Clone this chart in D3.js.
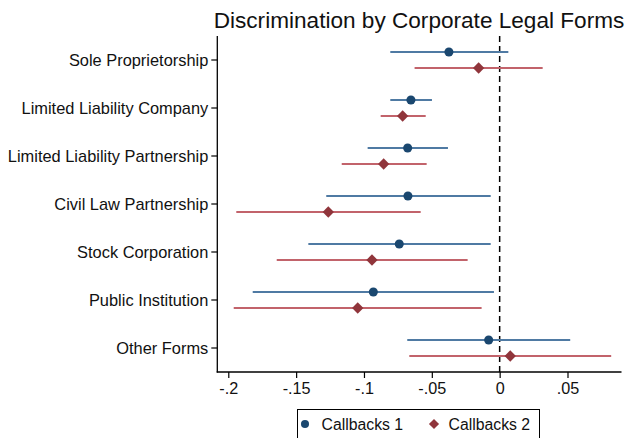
<!DOCTYPE html>
<html>
<head>
<meta charset="utf-8">
<script src="https://cdn.jsdelivr.net/npm/d3@7"></script>
<style>
  html, body { margin: 0; padding: 0; background: #fff; }
  svg { display: block; font-family: "Liberation Sans", Arial, sans-serif; }
</style>
</head>
<body>
<svg id="chart" width="628" height="438"></svg>
<script>
// Legal forms, top to bottom
const categories = [
  "Sole Proprietorship",
  "Limited Liability Company",
  "Limited Liability Partnership",
  "Civil Law Partnership",
  "Stock Corporation",
  "Public Institution",
  "Other Forms"
];

// Callbacks 1: point estimates and confidence bounds
const est1 = [-0.0374, -0.0654, -0.0678, -0.0676, -0.0740, -0.0931, -0.0081];
const lo1  = [-0.0806, -0.0806, -0.0973, -0.1278, -0.1410, -0.1820, -0.0681];
const hi1  = [ 0.0064, -0.0499, -0.0381, -0.0066, -0.0066, -0.0042,  0.0520];

// Callbacks 2: point estimates and confidence bounds
const est2 = [-0.0155, -0.0715, -0.0855, -0.1263, -0.0941, -0.1046,  0.0078];
const lo2  = [-0.0627, -0.0877, -0.1164, -0.1941, -0.1643, -0.1960, -0.0666];
const hi2  = [ 0.0317, -0.0545, -0.0538, -0.0582, -0.0236, -0.0133,  0.0822];

const xTicks = [-0.2, -0.15, -0.1, -0.05, 0, 0.05];
const xTickLabels = ["-.2", "-.15", "-.1", "-.05", "0", ".05"];
const seriesNames = ["Callbacks 1", "Callbacks 2"];

const svg = d3.select("#chart");
const plotLeft = 217.3, plotRight = 621.5, plotTop = 36, plotBottom = 372;
const FONT = "Liberation Sans, Arial, sans-serif";

const x = d3.scaleLinear().domain([-0.2081, 0.0898]).range([plotLeft, plotRight]);
const y = d3.scaleBand().domain(categories).range([plotTop, plotBottom]).padding(0);

// Diamond = square turned by 45 degrees
const series = [
  { name: seriesNames[0], est: est1, lo: lo1, hi: hi1, offset: -8,
    mark: "#1a476f", line: "#4f7aa3", symbol: d3.symbolCircle, size: 64, rot: 0 },
  { name: seriesNames[1], est: est2, lo: lo2, hi: hi2, offset: 8,
    mark: "#90353b", line: "#c2636b", symbol: d3.symbolSquare, size: 64, rot: 45 }
];

// Title
svg.append("text")
  .attr("x", 419).attr("y", 28)
  .attr("text-anchor", "middle")
  .attr("font-size", 22.6)
  .attr("fill", "#111")
  .text("Discrimination by Corporate Legal Forms");

// Reference line at zero
svg.append("line")
  .attr("x1", x(0)).attr("x2", x(0))
  .attr("y1", plotTop).attr("y2", plotBottom)
  .attr("stroke", "#000").attr("stroke-width", 1.5)
  .attr("stroke-dasharray", "6,4");

// Confidence intervals and point estimates
series.forEach(s => {
  const g = svg.append("g");
  g.selectAll("line.ci").data(categories).join("line")
    .attr("class", "ci")
    .attr("x1", (d, i) => x(s.lo[i]))
    .attr("x2", (d, i) => x(s.hi[i]))
    .attr("y1", d => y(d) + y.bandwidth() / 2 + s.offset)
    .attr("y2", d => y(d) + y.bandwidth() / 2 + s.offset)
    .attr("stroke", s.line).attr("stroke-width", 2);
  g.selectAll("path.pt").data(categories).join("path")
    .attr("class", "pt")
    .attr("d", d3.symbol().type(s.symbol).size(s.size))
    .attr("transform", (d, i) =>
      `translate(${x(s.est[i])},${y(d) + y.bandwidth() / 2 + s.offset}) rotate(${s.rot})`)
    .attr("fill", s.mark);
});

// Axes
const xAxis = d3.axisBottom(x)
  .tickValues(xTicks)
  .tickFormat((d, i) => xTickLabels[i])
  .tickSize(6).tickPadding(4.5).tickSizeOuter(0);
const gx = svg.append("g").attr("transform", `translate(0,${plotBottom})`).call(xAxis);
gx.select(".domain").attr("stroke", "#000").attr("stroke-width", 1.3)
  .attr("d", `M${plotLeft - 0.6},0H${plotRight}`);
gx.selectAll(".tick line").attr("stroke", "#000").attr("stroke-width", 1.2);
gx.selectAll(".tick text").attr("font-size", 16.2).attr("fill", "#111")
  .attr("font-family", FONT);

const yAxis = d3.axisLeft(y).tickSize(6).tickPadding(3).tickSizeOuter(0);
const gy = svg.append("g").attr("transform", `translate(${plotLeft},0)`).call(yAxis);
gy.select(".domain").attr("stroke", "#000").attr("stroke-width", 1.3)
  .attr("d", `M0,${plotTop}V${plotBottom + 0.6}`);
gy.selectAll(".tick line").attr("stroke", "#000").attr("stroke-width", 1.2);
gy.selectAll(".tick text").attr("font-size", 16.4).attr("fill", "#111")
  .attr("dy", "0.38em")
  .attr("font-family", FONT);

// Legend
const lg = svg.append("g");
lg.append("rect")
  .attr("x", 297.5).attr("y", 409.5).attr("width", 242).attr("height", 40)
  .attr("fill", "#fff").attr("stroke", "#000").attr("stroke-width", 1);
const legendItems = [
  { sx: 305, tx: 321.5 },
  { sx: 434, tx: 448.5 }
];
series.forEach((s, i) => {
  lg.append("path")
    .attr("d", d3.symbol().type(s.symbol).size(s.size * 0.8))
    .attr("transform", `translate(${legendItems[i].sx},424) rotate(${s.rot})`)
    .attr("fill", s.mark);
  lg.append("text")
    .attr("x", legendItems[i].tx).attr("y", 430)
    .attr("font-size", 15.8).attr("fill", "#111")
    .attr("font-family", FONT)
    .text(s.name);
});
</script>
</body>
</html>
